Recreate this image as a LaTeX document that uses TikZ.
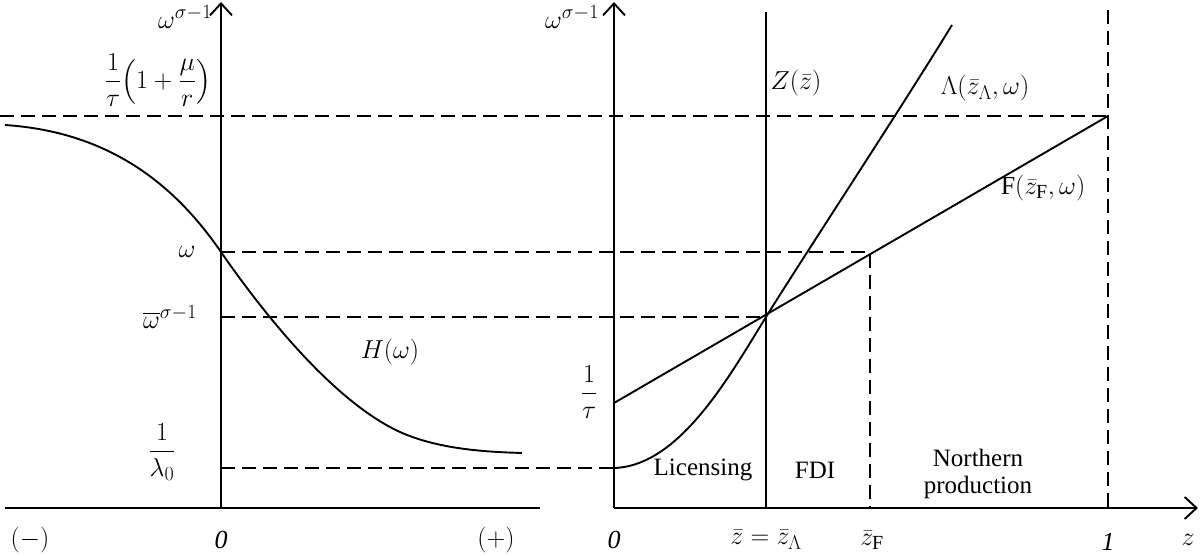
\documentclass[tikz,border=0pt]{standalone}
\usepackage{fix-cm}
\usepackage{amsmath}
\usepackage{fontspec}
\setmainfont{Liberation Serif}
\DeclareMathSizes{26}{26}{20}{15}
\usetikzlibrary{arrows.meta}
\begin{document}
\begin{tikzpicture}[x=1pt,y=-1pt,
  axis/.style={line width=1.9pt},
  curve/.style={line width=1.9pt},
  guide/.style={line width=1.5pt, dash pattern=on 14pt off 7pt},
  lbl/.style={inner sep=0pt, font=\fontsize{26}{30}\selectfont},
  txt/.style={inner sep=0pt, font=\fontsize{25}{27}\selectfont, align=center},
  tip/.style={-{Straight Barb[length=12pt,width=22pt]}}]
\useasboundingbox (0,0) rectangle (1200,556);
% coordinates
\coordinate (LO) at (221,508); \coordinate (LT) at (221,2);
\coordinate (LL) at (5,508);   \coordinate (LR) at (540,508);
\coordinate (RO) at (614,508); \coordinate (RT) at (614,2);
\coordinate (RR) at (1198,508);
\coordinate (ZT) at (766,12);  \coordinate (ZB) at (766,508);
\coordinate (E)  at (766,317);
\coordinate (ONE) at (1108,116); \coordinate (ONEt) at (1108,10); \coordinate (ONEb) at (1108,508);
\coordinate (FW) at (870,252); \coordinate (FWb) at (870,508);
\coordinate (HW) at (221,252);
% guides
\draw[guide] (0,116) -- (ONE);
\draw[guide] (ONEt) -- (ONEb);
\draw[guide] (HW) -- (FW) -- (FWb);
\draw[guide] (221,317) -- (E);
\draw[guide] (221,468) -- (614,468);
% axes
\draw[axis,tip] (LO) -- (LT);
\draw[axis] (LL) -- (LR);
\draw[axis,tip] (RO) -- (RT);
\draw[axis,tip] (RO) -- (RR);
\draw[line width=2.8pt] (ZT) -- (ZB);
% curves
\draw[curve] (5,125) .. controls (110,132) and (175,185) .. (HW)
  .. controls (257,304) and (330,400) .. (400,432)
  .. controls (440,450) and (490,452) .. (522,453);
\draw[curve] (614,403) -- (ONE);
\draw[curve] (614,468) .. controls (680,466) and (730,375) .. (E) .. controls (800,262) and (900,110) .. (952,25);
% left labels
\node[lbl] (l1) at (185,17) {$\omega^{\sigma-1}$};
\node[lbl] (l2) at (158,80) {$\displaystyle\frac{1}{\tau}\Bigl(1+\frac{\mu}{r}\Bigr)$};
\node[lbl] (l3) at (187,252) {$\omega$};
\node[lbl] (l4) at (170,317) {$\overline{\omega}^{\sigma-1}$};
\node[lbl] (l5) at (162,452) {$\displaystyle\frac{1}{\lambda_0}$};
\node[lbl] (l6) at (390,352) {$H(\omega)$};
\node[lbl] (l7) at (30,540) {$(-)$};
\node[lbl] (l8) at (221,540) {$\mathit{0}$};
\node[lbl] (l9) at (496,540) {$(+)$};
% right labels
\node[lbl] (r1) at (572,17) {$\omega^{\sigma-1}$};
\node[lbl] (r2) at (589,392) {$\displaystyle\frac{1}{\tau}$};
\node[lbl] (r3) at (796,83) {$Z(\bar z)$};
\node[lbl] (r4) at (985,88) {$\Lambda(\bar z_{\Lambda},\omega)$};
\node[lbl] (r5) at (1043,188) {$\mathrm{F}(\bar z_{\mathrm{F}},\omega)$};
\node[lbl] (r6) at (614,540) {$\mathit{0}$};
\node[lbl] (r7) at (766,540) {$\bar z=\bar z_{\Lambda}$};
\node[lbl] (r8) at (872,540) {$\bar z_{\mathrm{F}}$};
\node[lbl] (r9) at (1108,542) {$\mathit{1}$};
\node[lbl] (r10) at (1188,540) {$z$};
\node[txt] (t1) at (703,470) {Licensing};
\node[txt] (t2) at (815,470) {FDI};
\node[txt] (t3) at (978,474) {Northern\\production};
\end{tikzpicture}
\end{document}
